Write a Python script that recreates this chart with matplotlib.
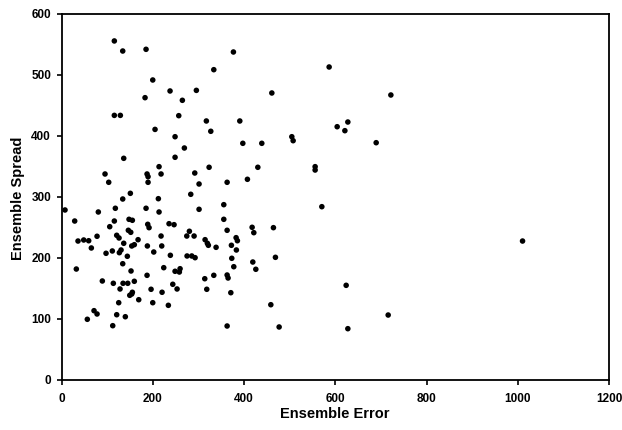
import matplotlib
matplotlib.use("Agg")
import matplotlib.pyplot as plt

plt.rcParams['font.family'] = ['Liberation Sans', 'DejaVu Sans']

# Ensemble error (x) and ensemble spread (y) for each case
ensemble_error = [
    115.8, 134.2, 185.3, 333.8, 200.0, 237.9, 295.6, 183.1, 264.9, 115.8,
    129.0, 257.0, 317.5, 327.2, 205.0, 248.9, 269.3, 136.4, 248.9, 213.8,
    323.5, 95.4, 187.5, 189.7, 218.2, 292.1, 103.5, 189.7, 301.5, 150.9,
    283.3, 134.2, 212.3,
    7.7, 355.7, 118.0, 185.3, 80.7, 213.8, 301.5, 355.7, 28.9, 115.8,
    148.0, 155.3, 105.7, 189.0, 191.9, 235.7, 246.7, 146.5, 151.8, 280.3,
    77.9, 121.0, 126.1, 218.2, 274.6, 290.6, 167.8, 314.7, 319.7, 321.9,
    36.2, 48.7, 59.6, 136.4, 154.0, 159.6, 219.7, 188.2, 65.4, 338.8,
    111.4, 130.5, 126.8, 202.2, 97.6, 144.3, 238.6, 275.2, 285.5, 292.8,
    134.2, 32.5, 224.1, 259.9, 248.9, 258.3, 152.4, 187.5, 333.8, 314.0,
    89.5, 113.6, 134.9, 145.2, 159.6, 243.9, 128.3, 196.3, 253.3, 318.4,
    155.3, 149.6, 154.0, 220.4, 169.3, 125.4, 200.0, 234.2, 71.3, 77.9,
    121.0, 139.9, 56.6, 112.3,
    376.8, 586.6, 461.0, 721.9, 390.8, 627.6, 604.2, 621.1, 397.4, 439.0,
    504.8, 507.7, 689.7, 430.3, 555.9, 555.9, 363.0, 407.5,
    570.6, 363.0, 417.8, 421.5, 464.5, 382.7, 385.5, 372.4, 383.3, 373.2,
    419.3, 468.9, 377.6, 425.9, 363.0, 365.1, 371.1, 623.9, 458.8, 716.0,
    363.0, 477.0, 627.6,
    1010.5,
]
ensemble_spread = [
    555.0, 538.5, 541.3, 507.9, 491.0, 473.0, 474.0, 462.0, 457.7, 433.0,
    433.0, 432.5, 423.8, 406.9, 410.0, 398.0, 379.5, 362.6, 364.3, 348.9,
    347.9, 336.9, 336.9, 332.5, 336.9, 338.5, 323.3, 323.3, 320.5, 305.2,
    303.6, 295.9, 296.4,
    277.9, 286.6, 280.7, 280.7, 274.6, 274.6, 279.0, 262.6, 259.8, 259.8,
    262.6, 261.0, 250.5, 254.4, 248.9, 255.4, 253.8, 244.6, 241.3, 243.0,
    234.8, 236.4, 232.0, 235.2, 235.2, 235.2, 229.2, 229.2, 223.3, 220.0,
    227.0, 228.7, 227.5, 223.3, 218.9, 221.0, 218.9, 218.9, 215.6, 216.7,
    210.7, 212.3, 207.9, 209.0, 206.9, 202.0, 203.6, 202.5, 202.5, 199.7,
    189.8, 181.1, 183.3, 181.6, 177.4, 176.2, 177.9, 170.8, 170.8, 165.2,
    161.5, 157.7, 157.7, 157.7, 161.0, 156.1, 148.4, 147.9, 148.4, 147.9,
    143.0, 138.0, 140.2, 143.0, 130.8, 125.9, 125.9, 121.6, 112.8, 107.4,
    106.2, 102.9, 98.7, 88.2,
    536.9, 512.3, 469.7, 466.4, 423.8, 422.1, 414.4, 407.9, 387.2, 387.2,
    398.0, 391.5, 388.2, 347.9, 348.9, 343.4, 323.3, 328.2,
    283.3, 244.6, 249.5, 240.7, 248.9, 232.5, 227.5, 220.0, 212.3, 198.7,
    192.6, 200.3, 184.9, 180.7, 171.3, 166.4, 142.3, 154.4, 122.6, 105.7,
    87.7, 86.1, 83.3,
    227.0,
]

x_ticks = [0, 200, 400, 600, 800, 1000, 1200]
y_ticks = [0, 100, 200, 300, 400, 500, 600]

fig = plt.figure(figsize=(6.22, 4.30), dpi=100)
ax = fig.add_axes([61.5 / 622, 1 - 379.5 / 430, (609 - 61.5) / 622, (379.5 - 13.5) / 430])

ax.scatter(ensemble_error, ensemble_spread, s=16, c='black', edgecolors='none', zorder=3)

ax.set_xlim(0, 1200)
ax.set_ylim(0, 600)
ax.set_xticks(x_ticks)
ax.set_yticks(y_ticks)
ax.tick_params(axis='both', direction='out', length=3.5, width=1.2, color='black',
               labelsize=8.5, labelcolor='black')
ax.tick_params(axis='x', pad=6)
ax.tick_params(axis='y', pad=4)
for lab in ax.get_xticklabels() + ax.get_yticklabels():
    lab.set_fontweight('bold')

for sp in ax.spines.values():
    sp.set_linewidth(1.3)
    sp.set_color('black')

ax.set_xlabel('Ensemble Error', fontsize=10.5, fontweight='bold', va='center')
ax.xaxis.set_label_coords(0.5, (379.5 - 414) / 366)
ax.set_ylabel('Ensemble Spread', fontsize=10.5, fontweight='bold', va='center', ha='center')
ax.yaxis.set_label_coords((18 - 61.5) / 547.5, (379.5 - 198) / 366)

fig.savefig('out.png', dpi=100, facecolor='white')
